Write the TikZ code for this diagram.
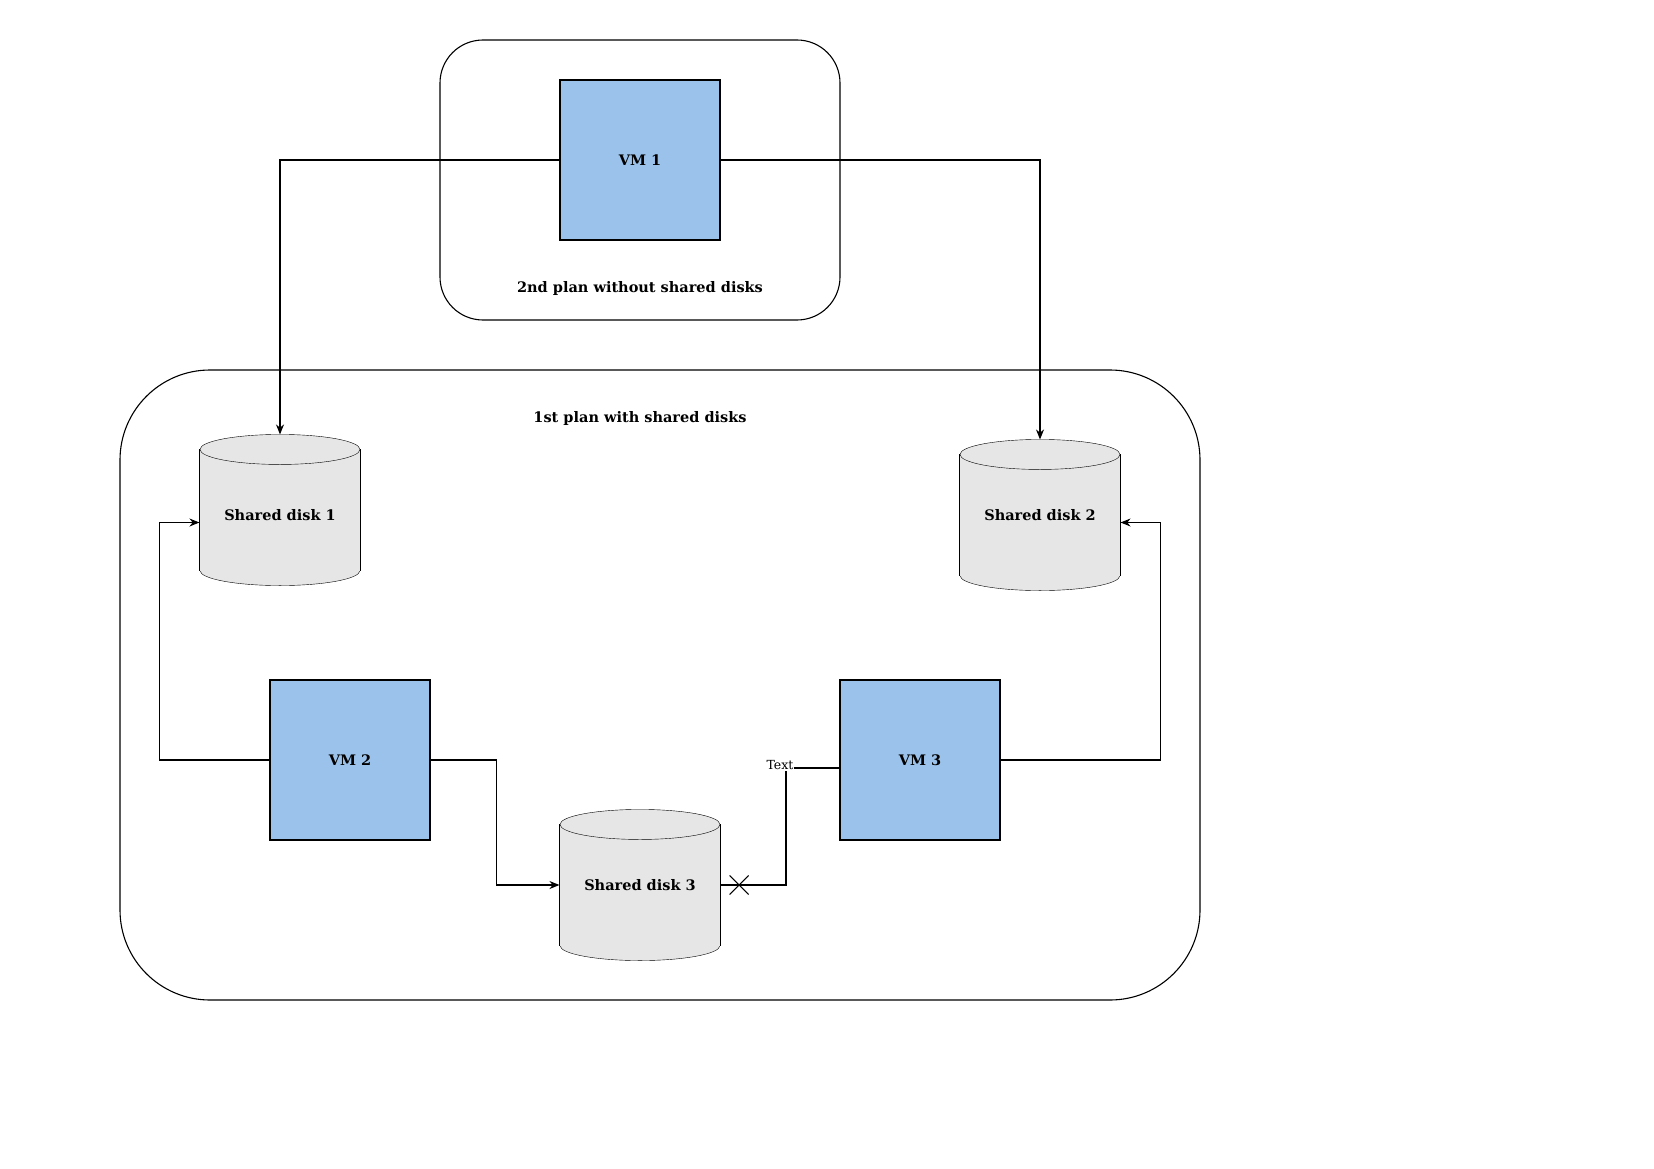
\documentclass[tikz,border=0pt]{standalone}
\usepackage{fontspec}
\setmainfont{DejaVu Serif}
\usetikzlibrary{arrows.meta,shapes.misc,backgrounds}
\definecolor{vmblue}{RGB}{154,194,234}
\definecolor{diskgray}{RGB}{230,230,230}
\newcommand\drawdisk[1]{%
  \path[draw, fill=diskgray] ([yshift=15pt]#1.south) ellipse [x radius=80pt, y radius=15pt];
  \fill[diskgray] ([yshift=-15pt]#1.north west) rectangle ([yshift=15pt]#1.south east);
  \draw ([yshift=-15pt]#1.north west) -- ([yshift=15pt]#1.south west);
  \draw ([yshift=-15pt]#1.north east) -- ([yshift=15pt]#1.south east);
  \path[draw, fill=diskgray] ([yshift=-15pt]#1.north) ellipse [x radius=80pt, y radius=15pt];
}
\begin{document}
\begin{tikzpicture}[x=1pt,y=-1pt,line width=1.1pt,
  bfont/.style={font=\bfseries\fontsize{14.5}{17}\selectfont},
  vm/.style={draw, fill=vmblue, minimum width=160pt, minimum height=160pt, inner sep=0pt, bfont},
  disk/.style={minimum width=160pt, minimum height=150pt, inner sep=0pt, bfont},
  frame/.style={draw, inner sep=0pt},
  lbl/.style={bfont},
  conn/.style={-{Stealth[length=10pt,width=8pt]}},
  xmark/.style={cross out, draw, minimum size=18pt, inner sep=0pt, line width=1pt},
  smalltext/.style={fill=white, inner sep=1pt, font=\fontsize{12.5}{14}\selectfont}]
\useasboundingbox (0,0) rectangle (1654,1169);

% containers
\node[frame, minimum width=400pt, minimum height=280pt, rounded corners=43pt] (plan2) at (640,180) {};
\node[frame, minimum width=1080pt, minimum height=630pt, rounded corners=90pt] (plan1) at (660,685) {};
\node[lbl] (t2) at (640,288.5) {2nd plan without shared disks};
\node[lbl] (t1) at (640,418) {1st plan with shared disks};

% VMs
\node[vm] (vm1) at (640,160) {VM 1};
\node[vm] (vm2) at (350,760) {VM 2};
\node[vm] (vm3) at (920,760) {VM 3};

% disks
\node[disk] (d1) at (280,510) {};
\node[lbl] (d1t) at (280,515) {Shared disk 1};
\node[disk] (d2) at (1040,515) {Shared disk 2};
\node[disk] (d3) at (640,885) {Shared disk 3};
\begin{scope}[on background layer]
\fill[white] (0,0) rectangle (1654,1169);
\drawdisk{d1}
\drawdisk{d2}
\drawdisk{d3}
\end{scope}

% connectors
\draw[conn] (vm1.west) -| (d1.north);
\draw[conn] (vm1.east) -| (d2.north);
\draw[conn] (vm2.west) -- ++(-110,0) |- ([yshift=-12.5pt]d1.west);
\draw[conn] (vm3.east) -- ++(160,0) |- ([yshift=-7.5pt]d2.east);
\draw[conn] (vm2.east) -- ++(66,0) |- (d3.west);

\coordinate (bend) at (786,768);
\draw (vm3.west |- bend) -- (bend) -- (bend |- d3.east) -- (d3.east);
\node[xmark] (xm) at ([xshift=18.5pt]d3.east) {};
\node[smalltext] (tl) at (780,765) {Text};
\end{tikzpicture}
\end{document}
